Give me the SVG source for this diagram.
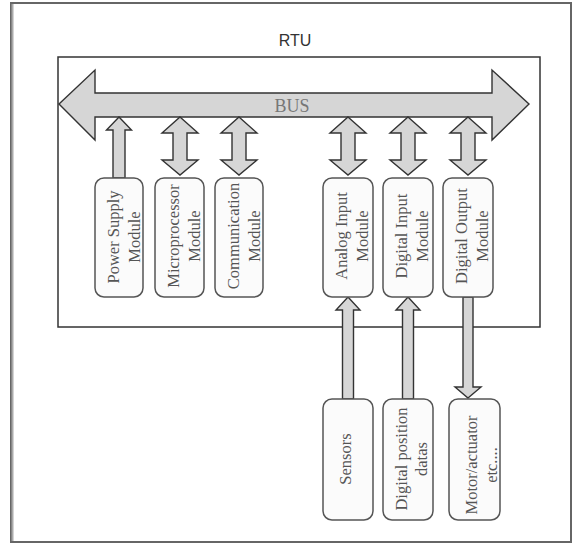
<svg xmlns="http://www.w3.org/2000/svg" width="572" height="545" viewBox="0 0 572 545">
<style>
.frame{fill:#fff;stroke:#666;stroke-width:2}
.rtu{fill:none;stroke:#333;stroke-width:1.5}
.arr{fill:#d6d6d6;stroke:#333;stroke-width:1.4;stroke-linejoin:miter}
.box{fill:#fbfbfb;stroke:#555;stroke-width:1.5}
.lbl{font-family:"Liberation Serif","Times New Roman",serif;font-size:16.5px;fill:#555;text-anchor:middle}
.title{font-family:"Liberation Sans",Arial,sans-serif;font-size:16px;fill:#333;text-anchor:middle}
.bus{font-family:"Liberation Serif","Times New Roman",serif;font-size:18px;fill:#777;text-anchor:middle}
</style>
<rect width="572" height="545" fill="#fff"/>
<g id="frame">
<rect class="frame" x="11" y="3" width="560" height="539"/>
<line x1="12.5" y1="4" x2="12.5" y2="541" stroke="#aaa" stroke-width="2"/>
</g>
<g id="rtu">
<rect class="rtu" x="58" y="57" width="482" height="270"/>
<text class="title" x="295" y="46">RTU</text>
</g>
<g id="connectors">
<polygon id="bus" class="arr" points="59,104 95,70 95,93 492,93 492,70 529,104 492,140 492,117 95,117 95,140"/>
<text class="bus" x="292" y="111.5">BUS</text>
<polygon class="arr" points="119,117 131.5,130 125,130 125,178 113,178 113,130 106.5,130"/>
<polygon class="arr" points="180,117 198,133 187,133 187,160 198,160 180,175 162,160 173,160 173,133 162,133"/>
<polygon class="arr" points="239,117 257,133 246,133 246,160 257,160 239,175 221,160 232,160 232,133 221,133"/>
<polygon class="arr" points="348,117 366,133 355,133 355,160 366,160 348,175 330,160 341,160 341,133 330,133"/>
<polygon class="arr" points="408,117 426,133 415,133 415,160 426,160 408,175 390,160 401,160 401,133 390,133"/>
<polygon class="arr" points="468,117 486,133 475,133 475,160 486,160 468,175 450,160 461,160 461,133 450,133"/>
<polygon class="arr" points="348,297 360,310 353.5,310 353.5,399 342.5,399 342.5,310 336,310"/>
<polygon class="arr" points="408,297 420,310 413.5,310 413.5,399 402.5,399 402.5,310 396,310"/>
<polygon class="arr" points="468,398 481,387 473,387 473,297 463,297 463,387 455,387"/>
</g>
<g id="power">
<rect class="box" x="95" y="178" width="48" height="119" rx="9"/>
<text class="lbl" transform="translate(118.5,237) rotate(-90)">Power Supply</text>
<text class="lbl" transform="translate(139.5,237) rotate(-90)">Module</text>
</g>
<g id="micro">
<rect class="box" x="155" y="178" width="49" height="119" rx="9"/>
<text class="lbl" transform="translate(179,236) rotate(-90)">Microprocessor</text>
<text class="lbl" transform="translate(200,236) rotate(-90)">Module</text>
</g>
<g id="comm">
<rect class="box" x="215" y="178" width="48" height="119" rx="9"/>
<text class="lbl" transform="translate(239,236) rotate(-90)">Communication</text>
<text class="lbl" transform="translate(260,236) rotate(-90)">Module</text>
</g>
<g id="analog">
<rect class="box" x="323" y="178" width="50" height="119" rx="9"/>
<text class="lbl" transform="translate(347,236) rotate(-90)">Analog Input</text>
<text class="lbl" transform="translate(368,236) rotate(-90)">Module</text>
</g>
<g id="digin">
<rect class="box" x="383" y="178" width="50" height="119" rx="9"/>
<text class="lbl" transform="translate(407,236) rotate(-90)">Digital Input</text>
<text class="lbl" transform="translate(428,236) rotate(-90)">Module</text>
</g>
<g id="digout">
<rect class="box" x="443" y="178" width="50" height="119" rx="9"/>
<text class="lbl" transform="translate(467,236) rotate(-90)">Digital Output</text>
<text class="lbl" transform="translate(488,236) rotate(-90)">Module</text>
</g>
<g id="sensors">
<rect class="box" x="323" y="399" width="50" height="121" rx="9"/>
<text class="lbl" transform="translate(351,459) rotate(-90)">Sensors</text>
</g>
<g id="digpos">
<rect class="box" x="383" y="399" width="50" height="121" rx="9"/>
<text class="lbl" transform="translate(406.5,459) rotate(-90)">Digital position</text>
<text class="lbl" transform="translate(427,459) rotate(-90)">datas</text>
</g>
<g id="motor">
<rect class="box" x="449" y="399" width="51" height="121" rx="9"/>
<text class="lbl" transform="translate(477,465) rotate(-90)">Motor/actuator</text>
<text class="lbl" transform="translate(497,465) rotate(-90)">etc....</text>
</g>
</svg>
